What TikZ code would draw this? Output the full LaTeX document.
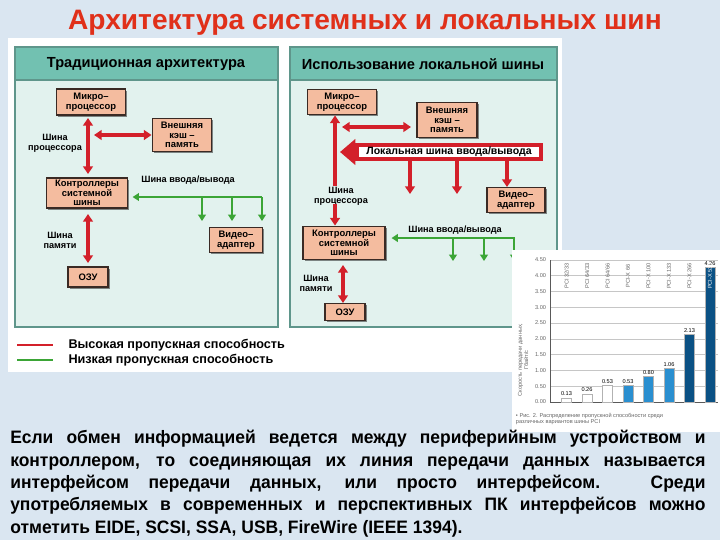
\documentclass[tikz,border=0pt]{standalone}
\usepackage{fontspec}
\setmainfont{Liberation Sans}
\newfontfamily\narrowfont[FakeStretch=0.97]{Liberation Sans}
\usetikzlibrary{arrows.meta,shadows}
\definecolor{slidebg}{HTML}{DAE6F1}
\definecolor{titlered}{HTML}{E0301A}
\definecolor{panelhead}{HTML}{72C1B1}
\definecolor{panelbody}{HTML}{E2F2EE}
\definecolor{panelline}{HTML}{5F968B}
\definecolor{boxfill}{HTML}{F4BC9F}
\definecolor{boxline}{HTML}{3A2A24}
\definecolor{busred}{HTML}{D3202A}
\definecolor{busgreen}{HTML}{3BA536}
\definecolor{barlight}{HTML}{2A8FD0}
\definecolor{bardark}{HTML}{0B5184}
\begin{document}
\begin{tikzpicture}[x=0.025cm,y=-0.025cm,
    box/.style={draw=boxline,line width=1.3pt,fill=boxfill,align=center,inner sep=0.5pt,
      font=\bfseries\fontsize{6.7}{6.9}\selectfont,
      drop shadow={shadow xshift=1.2pt,shadow yshift=-1.2pt,fill=black,opacity=.45}},
    hdr/.style={font=\bfseries\fontsize{10.4}{12}\selectfont},
    lbl/.style={font=\bfseries\fontsize{6.5}{7}\selectfont,align=center,inner sep=0pt},
    hibus/.style={draw=busred,line width=2.2pt,{Triangle[width=7pt,length=5.5pt]}-{Triangle[width=7pt,length=5.5pt]}},
    hione/.style={draw=busred,line width=2.2pt,-{Triangle[width=7pt,length=5.5pt]}},
    lobus/.style={draw=busgreen,line width=1.4pt,-{Triangle[width=5.5pt,length=4.5pt]}},
    tiny/.style={font=\fontsize{4}{4.4}\selectfont,inner sep=0.5pt}]
  % slide and picture areas
  \fill[slidebg] (0,0) rectangle (720,540);
  \useasboundingbox (0,0) rectangle (720,540);
  \fill[white] (8,38) rectangle (562,372);
  \node[font=\bfseries\fontsize{20}{23}\selectfont,text=titlered] (title) at (365,23)
    {Архитектура системных и локальных шин};

  % left panel
  \filldraw[fill=panelbody,draw=panelline,line width=1.2pt] (15,47) rectangle (278,327);
  \filldraw[fill=panelhead,draw=panelline,line width=1.2pt] (15,47) rectangle (278,80);
  \node[hdr] (head1) at (146,64) {Традиционная архитектура};
  \node[box,minimum width=49pt,minimum height=18.5pt] (mp1) at (91,102) {Микро--\\процессор};
  \node[box,minimum width=42pt,minimum height=23.5pt] (cache1) at (182,135) {Внешняя\\кэш --\\память};
  \node[box,minimum width=57.6pt,minimum height=21.3pt] (ctl1) at (87,193) {Контроллеры\\системной\\шины};
  \node[box,minimum width=37.7pt,minimum height=17.8pt] (video1) at (236,240) {Видео--\\адаптер};
  \node[box,minimum width=28.4pt,minimum height=14.2pt] (ram1) at (88,277) {ОЗУ};
  \node[lbl] (pbus1) at (55,143) {Шина\\процессора};
  \node[lbl] (iobus1) at (188,180) {Шина ввода/вывода};
  \node[lbl] (membus1) at (60,240) {Шина\\памяти};
  \coordinate (pb1a) at (88,118);
  \coordinate (pb1b) at (88,174);
  \coordinate (cc1) at (94,135);
  \coordinate (io1) at (262,197);
  \coordinate (mb1a) at (88,214);
  \coordinate (mb1b) at (88,263);
  \draw[hibus] (pb1a) -- (pb1b);
  \draw[hibus] (cc1) -- (cache1.west |- cc1);
  \draw[lobus,shorten >=3pt] (io1) -- (ctl1.east |- io1);
  \foreach \x in {202,232,262}
    \draw[lobus] (\x,197) -- (\x,221);
  \draw[hibus] (mb1a) -- (mb1b);

  % right panel
  \filldraw[fill=panelbody,draw=panelline,line width=1.2pt] (290,47) rectangle (557,327);
  \filldraw[fill=panelhead,draw=panelline,line width=1.2pt] (290,47) rectangle (557,80);
  \node[hdr] (head2) at (423,64) {Использование локальной шины};
  \node[box,minimum width=49pt,minimum height=17.8pt] (mp2) at (342,102) {Микро--\\процессор};
  \node[box,minimum width=42.7pt,minimum height=24.9pt] (cache2) at (447,120) {Внешняя\\кэш --\\память};
  \node[box,minimum width=41.2pt,minimum height=17.8pt] (video2) at (516,200) {Видео--\\адаптер};
  \node[box,minimum width=58.3pt,minimum height=23.5pt] (ctl2) at (344,243) {Контроллеры\\системной\\шины};
  \node[box,minimum width=28.4pt,minimum height=12.1pt] (ram2) at (345,312) {ОЗУ};
  \node[draw=busred,line width=2.8pt,fill=white,minimum width=131pt,minimum height=10pt,
    inner sep=0pt,font=\bfseries\fontsize{7.5}{8}\selectfont] (lbus) at (449,152)
    {Локальная шина ввода/вывода};
  \node[lbl] (pbus2) at (341,196) {Шина\\процессора};
  \node[lbl] (iobus2) at (455,230) {Шина ввода/вывода};
  \node[lbl] (membus2) at (316,283) {Шина\\памяти};
  \coordinate (lbtip) at (340,152);
  \coordinate (pb2a) at (335,186);
  \coordinate (pb2b) at (335,204);
  \coordinate (cc2) at (342,127);
  \coordinate (cc2b) at (411,127);
  \coordinate (io2) at (515,238);
  \coordinate (mb2a) at (343,265);
  \coordinate (mb2b) at (343,303);
  \draw[busred,line width=2.8pt,-{Triangle[width=18pt,length=11pt]}] (lbus.west) -- (lbtip);
  \draw[hione] (pb2a) -- (pb2a |- mp2.south);
  \draw[hione] (pb2b) -- (pb2b |- ctl2.north);
  \draw[hibus] (cc2) -- (cc2b);
  \foreach \x in {410,457}
    \draw[hione] (\x,160) -- (\x,194);
  \draw[hione] (507,160) -- (507,187);
  \draw[lobus,shorten >=4pt] (io2) -- (ctl2.east |- io2);
  \foreach \x in {453,484,514}
    \draw[lobus] (\x,238) -- (\x,261);
  \draw[hibus] (mb2a) -- (mb2b);

  % legend
  \coordinate (lgr) at (17,345);
  \coordinate (lgg) at (17,360);
  \draw[busred,line width=1.4pt] (lgr) -- ++(36,0)
    node[right=7pt,text=black,font=\bfseries\fontsize{9}{10}\selectfont] (hitext) {Высокая пропускная способность};
  \draw[busgreen,line width=1.4pt] (lgg) -- ++(36,0)
    node[right=7pt,text=black,font=\bfseries\fontsize{9}{10}\selectfont] (lotext) {Низкая пропускная способность};

  % bandwidth chart
  \fill[white] (512,250) rectangle (720,432);
  \foreach \v in {0.5,1.0,...,4.5}
    \draw[gray!45,line width=0.3pt] (550,402-31.6*\v) -- (718,402-31.6*\v);
  \foreach \v/\t in {0/0.00,0.5/0.50,1/1.00,1.5/1.50,2/2.00,2.5/2.50,3/3.00,3.5/3.50,4/4.00,4.5/4.50}
    \node[tiny,anchor=east,text=gray!80!black] at (547,402-31.6*\v) {\t};
  \draw[gray!70!black,line width=0.4pt] (550,260) -- (550,402) -- (718,402);
  \foreach \i/\v/\c/\t in {1/0.13/white/{PCI 32/33},2/0.26/white/{PCI 64/33},3/0.53/white/{PCI 64/66},
      4/0.53/barlight/{PCI-X 66},5/0.80/barlight/{PCI-X 100},6/1.06/barlight/{PCI-X 133},
      7/2.13/bardark/{PCI-X 266},8/4.26/bardark/{PCI-X 533}} {
    \pgfmathsetmacro{\bx}{566.5+20.5*(\i-1)}
    \filldraw[fill=\c,draw=gray!60] (\bx-5,402) rectangle (\bx+5,402-31.6*\v);
    \node[tiny,anchor=south] at (\bx,401-31.6*\v) {\v};
    \ifnum\i=8
      \node[tiny,rotate=90,text=white] at (\bx,276) {\t};
    \else
      \node[tiny,rotate=90,text=gray!80!black] at (\bx,276) {\t};
    \fi
  }
  \node[tiny,rotate=90,align=center,text=gray!80!black] (ytitle) at (523,360)
    {Скорость передачи данных,\\Гбайт/с};
  \node[tiny,anchor=north west,align=left,text=gray!80!black] (caption) at (515,412)
    {\textbullet\ Рис. 2. Распределение пропускной способности среди\\
     различных вариантов шины PCI};

  % body text
  \node[anchor=north west,text width=17.375cm,align=justify,inner sep=0pt,
    font=\narrowfont\bfseries\fontsize{12.8}{15.9}\selectfont] (body) at (10,430)
    {Если обмен информацией ведется между периферийным устройством и\linebreak
     контроллером, то соединяющая их линия передачи данных называется\linebreak
     интерфейсом передачи данных, или просто интерфейсом. Среди\linebreak
     употребляемых в современных и перспективных ПК интерфейсов можно\linebreak
     отметить EIDE, SCSI, SSA, USB, FireWire (IEEE 1394).};
\end{tikzpicture}
\end{document}
